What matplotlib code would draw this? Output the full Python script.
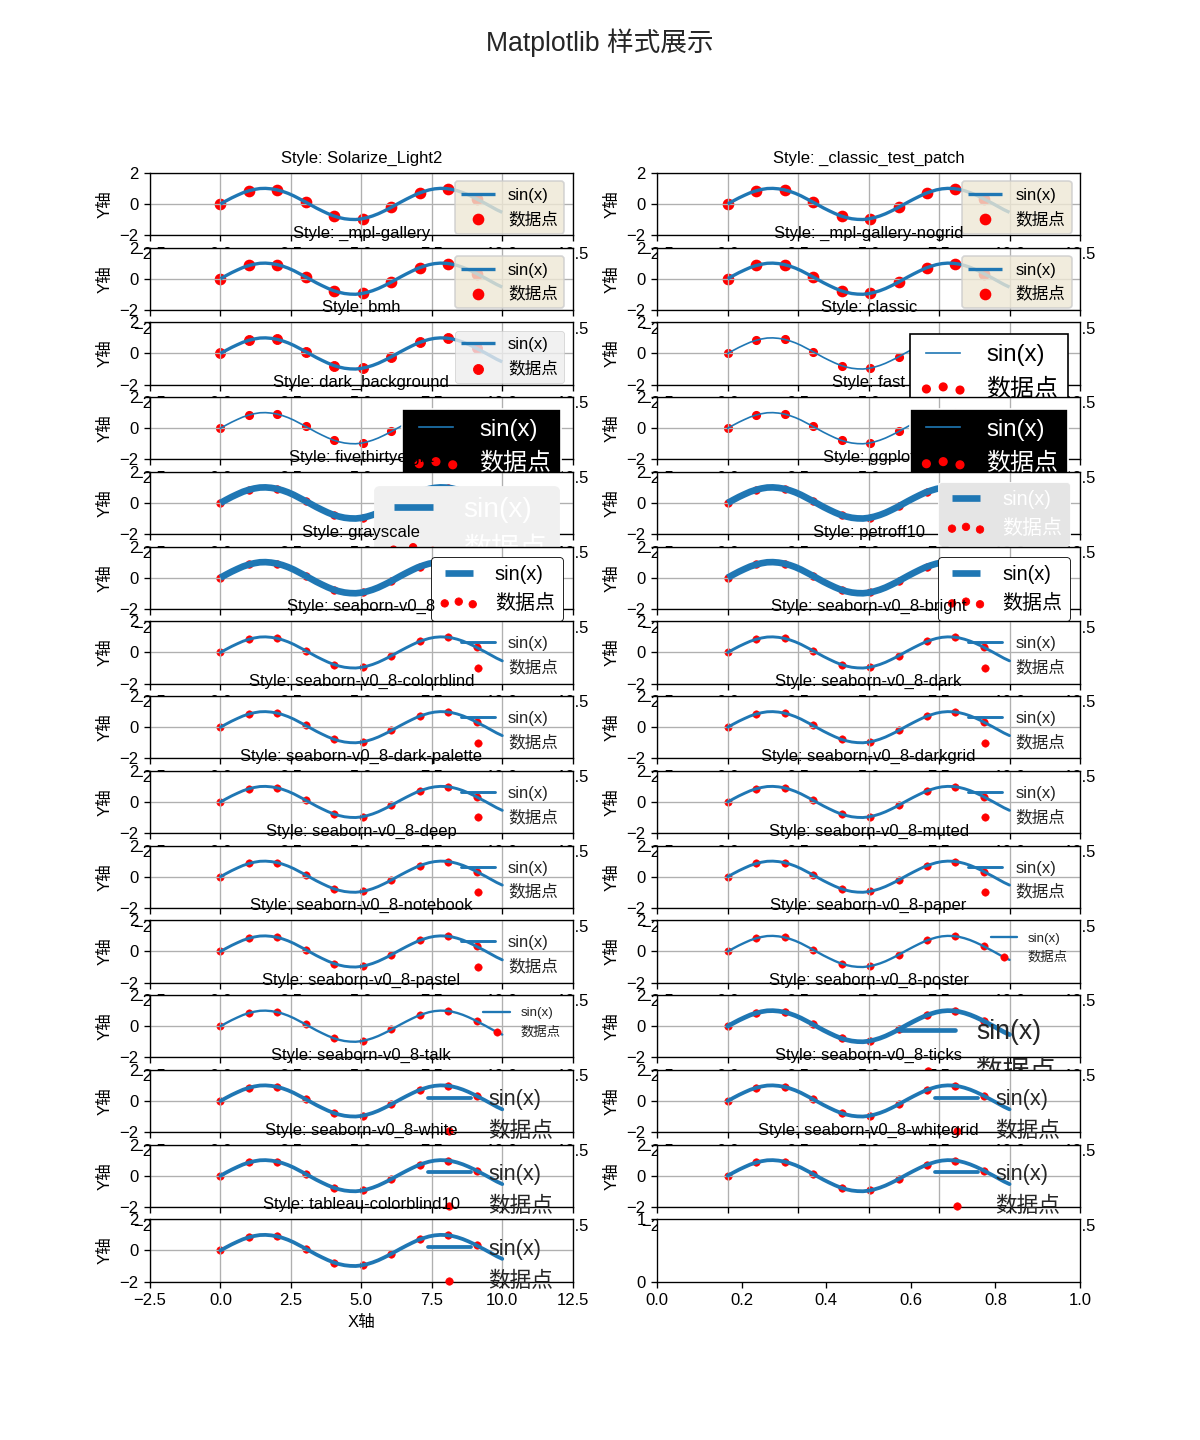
import numpy as np
import matplotlib
matplotlib.use("Agg")
import matplotlib.pyplot as plt
from matplotlib.font_manager import FontProperties

# ---------------- data ----------------
STYLE_NAMES = [
    "Solarize_Light2", "_classic_test_patch", "_mpl-gallery", "_mpl-gallery-nogrid",
    "bmh", "classic", "dark_background", "fast", "fivethirtyeight", "ggplot",
    "grayscale", "petroff10", "seaborn-v0_8", "seaborn-v0_8-bright",
    "seaborn-v0_8-colorblind", "seaborn-v0_8-dark", "seaborn-v0_8-dark-palette",
    "seaborn-v0_8-darkgrid", "seaborn-v0_8-deep", "seaborn-v0_8-muted",
    "seaborn-v0_8-notebook", "seaborn-v0_8-paper", "seaborn-v0_8-pastel",
    "seaborn-v0_8-poster", "seaborn-v0_8-talk", "seaborn-v0_8-ticks",
    "seaborn-v0_8-white", "seaborn-v0_8-whitegrid", "tableau-colorblind10",
]

LINE_X = [0.0, 0.2, 0.4, 0.6, 0.8, 1.0, 1.2, 1.4, 1.6, 1.8,
          2.0, 2.2, 2.4, 2.6, 2.8, 3.0, 3.2, 3.4, 3.6, 3.8,
          4.0, 4.2, 4.4, 4.6, 4.8, 5.0, 5.2, 5.4, 5.6, 5.8,
          6.0, 6.2, 6.4, 6.6, 6.8, 7.0, 7.2, 7.4, 7.6, 7.8,
          8.0, 8.2, 8.4, 8.6, 8.8, 9.0, 9.2, 9.4, 9.6, 9.8, 10.0]
LINE_Y = [0.00, 0.20, 0.39, 0.56, 0.72, 0.84, 0.93, 0.99, 1.00, 0.97,
          0.91, 0.81, 0.68, 0.52, 0.33, 0.14, -0.06, -0.26, -0.44, -0.61,
          -0.76, -0.87, -0.95, -0.99, -1.00, -0.96, -0.88, -0.77, -0.63, -0.46,
          -0.28, -0.08, 0.12, 0.31, 0.49, 0.66, 0.79, 0.90, 0.97, 1.00,
          0.99, 0.94, 0.85, 0.73, 0.58, 0.41, 0.22, 0.03, -0.17, -0.37, -0.54]

POINT_X = [0.0, 1.01, 2.02, 3.03, 4.04, 5.05, 6.06, 7.07, 8.08, 9.09]
POINT_Y = [0.0, 0.85, 0.90, 0.11, -0.78, -0.95, -0.21, 0.71, 0.97, 0.33]

X_RANGE = (-2.5, 12.5)
Y_RANGE = (-2, 2)

FIG_TITLE = "Matplotlib 样式展示"
LINE_LABEL = "sin(x)"
POINT_LABEL = "数据点"
Y_LABEL = "Y轴"
X_LABEL = "X轴"

# ---------------- drawing ----------------
FAM = ["Liberation Sans", "Noto Sans CJK SC", "DejaVu Sans"]
plt.rcParams["font.family"] = FAM

fig, axes = plt.subplots(15, 2, figsize=(10, 12), dpi=120)
flat = axes.flat

for ax, style in zip(flat, STYLE_NAMES):
    try:
        plt.style.use(style)
    except Exception:
        pass
    ax.plot(LINE_X, LINE_Y, label=LINE_LABEL)
    ax.scatter(POINT_X, POINT_Y, color="red", label=POINT_LABEL)
    ax.set_title(f"Style: {style}", fontsize=10, fontweight="normal",
                 color="black", pad=6)
    ax.set_ylabel(Y_LABEL)
    ax.set_xlim(*X_RANGE)
    ax.set_ylim(*Y_RANGE)
    ax.legend(prop=FontProperties(family=FAM,
                                  size=plt.rcParams["legend.fontsize"]))
    ax.grid(True)

axes[14, 0].set_xlabel(X_LABEL)
fig.suptitle(FIG_TITLE, family=FAM, fontsize=16, color="#262626",
             fontweight="normal")

fig.savefig("out.png", dpi=120, facecolor="white", edgecolor="white")
